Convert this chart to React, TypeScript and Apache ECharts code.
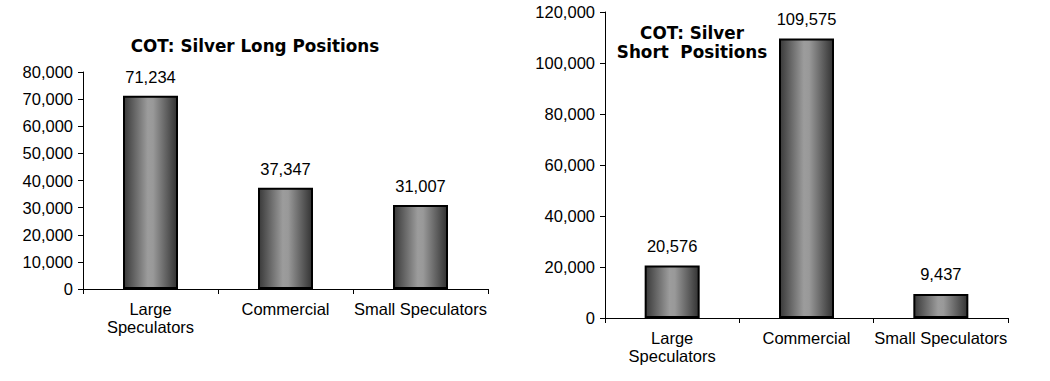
import React, { useEffect, useRef } from "react";
import * as echarts from "echarts";

const categories = ["Large\nSpeculators", "Commercial", "Small Speculators"];
const longValues = [71234, 37347, 31007];
const shortValues = [20576, 109575, 9437];
const longTitle = "COT: Silver Long Positions";
const shortTitle = "COT: Silver\nShort  Positions";

const FONT = "'Liberation Sans', Arial, sans-serif";
const FS = 16.5;

const barColor = {
  type: "linear",
  x: 0,
  y: 0,
  x2: 1,
  y2: 0,
  colorStops: [
    { offset: 0, color: "#3a3a3a" },
    { offset: 0.45, color: "#9c9c9c" },
    { offset: 0.55, color: "#999999" },
    { offset: 1, color: "#333333" },
  ],
};

function yAxis(gridIndex: number, max: number, interval: number) {
  return {
    type: "value",
    gridIndex,
    min: 0,
    max,
    interval,
    splitLine: { show: false },
    axisLine: { show: true, lineStyle: { color: "#000", width: 1 } },
    axisTick: { show: true, length: 5, lineStyle: { color: "#000" } },
    axisLabel: {
      color: "#000",
      fontSize: FS,
      fontFamily: FONT,
      margin: 10,
      formatter: (v: number) => v.toLocaleString("en-US"),
    },
  };
}

function xAxis(gridIndex: number) {
  return {
    type: "category",
    gridIndex,
    data: categories,
    axisLine: { show: true, lineStyle: { color: "#000", width: 1 } },
    axisTick: { show: true, length: 5, lineStyle: { color: "#000" } },
    axisLabel: {
      color: "#000",
      fontSize: FS,
      fontFamily: FONT,
      margin: 11,
      lineHeight: 18,
      interval: 0,
    },
  };
}

function barSeries(idx: number, data: number[], dist: number) {
  return {
    type: "bar",
    xAxisIndex: idx,
    yAxisIndex: idx,
    data,
    barWidth: 55,
    itemStyle: { color: barColor, borderColor: "#000", borderWidth: 2 },
    label: {
      show: true,
      position: "top",
      distance: dist,
      color: "#000",
      fontSize: FS,
      fontFamily: FONT,
      formatter: (p: any) => Number(p.value).toLocaleString("en-US"),
    },
  };
}

export default function App() {
  const ref = useRef<HTMLDivElement>(null);
  useEffect(() => {
    document.body.style.margin = "0";
    const chart = echarts.init(ref.current!, null, { renderer: "svg" });
    const titleStyle = {
      fontFamily: "'DejaVu Sans', Verdana, sans-serif",
      fontWeight: "bold",
      fontSize: 16.8,
      color: "#000",
      lineHeight: 19,
    };
    chart.setOption({
      animation: false,
      backgroundColor: "#fff",
      title: [
        { text: longTitle, left: 250, top: 31, textAlign: "center", textStyle: titleStyle },
        { text: shortTitle, left: 687, top: 18, textAlign: "center", textStyle: titleStyle },
      ],
      grid: [
        { left: 83, top: 72, width: 405, height: 217 },
        { left: 605, top: 12, width: 403, height: 306 },
      ],
      xAxis: [xAxis(0), xAxis(1)],
      yAxis: [yAxis(0, 80000, 10000), yAxis(1, 120000, 20000)],
      series: [barSeries(0, longValues, 10), barSeries(1, shortValues, 11)],
    });
    return () => chart.dispose();
  }, []);
  return <div ref={ref} style={{ width: 1050, height: 381 }} />;
}
